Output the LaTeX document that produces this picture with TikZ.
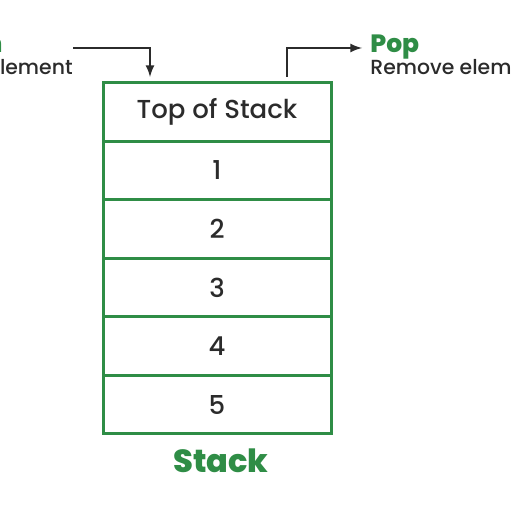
\documentclass[tikz,border=0pt]{standalone}
\usepackage{fontspec}
\setmainfont{Poppins}[UprightFont={* Medium}]
\usetikzlibrary{positioning}
\definecolor{stackgreen}{HTML}{2F8D46}
\definecolor{inkgray}{HTML}{2B2B2B}
\tikzset{
  cell/.style={draw=stackgreen, line width=1.5pt, minimum width=114pt, minimum height=29.25pt,
    inner sep=0pt, outer sep=0pt, text=inkgray, font=\fontsize{13}{15}\selectfont},
  opname/.style={text=stackgreen, font=\fontsize{12.5}{14}\selectfont\bfseries, inner sep=0pt},
  opdesc/.style={text=inkgray, font=\fontsize{10.2}{12}\selectfont, inner sep=0pt},
  flow/.style={draw=inkgray, line width=1pt, -latex}
}
\begin{document}
\begin{tikzpicture}[x=0.5pt,y=-0.5pt]
	\clip (0,0) rectangle (512,512);
	\fill[white] (0,0) rectangle (512,512);
	% stack cells
	\node[cell] (top) at (217,112) {Top of Stack};
	\node[cell, anchor=north] (c1) at (top.south) {1};
	\node[cell, anchor=north] (c2) at (c1.south) {2};
	\node[cell, anchor=north] (c3) at (c2.south) {3};
	\node[cell, anchor=north] (c4) at (c3.south) {4};
	\node[cell, anchor=north] (c5) at (c4.south) {5};
	\node[text=stackgreen, font=\fontsize{16}{18}\selectfont\bfseries] (title) at (221,461) {Stack};
	% push
	\node[opname, anchor=base east] (push) at (3,53) {Push};
	\node[opdesc, anchor=base east] (pushtxt) at (73,75) {Insert element};
	\coordinate (pushstart) at (73,48);
	\coordinate (pushend) at (150,77);
	\draw[flow] (pushstart) -| (pushend);
	% pop
	\node[opname, anchor=base west] (pop) at (370,53) {Pop};
	\node[opdesc, anchor=base west] (poptxt) at (370,75) {Remove element};
	\coordinate (popstart) at (287,77);
	\coordinate (popend) at (362,48);
	\draw[flow] (popstart) |- (popend);
\end{tikzpicture}
\end{document}
